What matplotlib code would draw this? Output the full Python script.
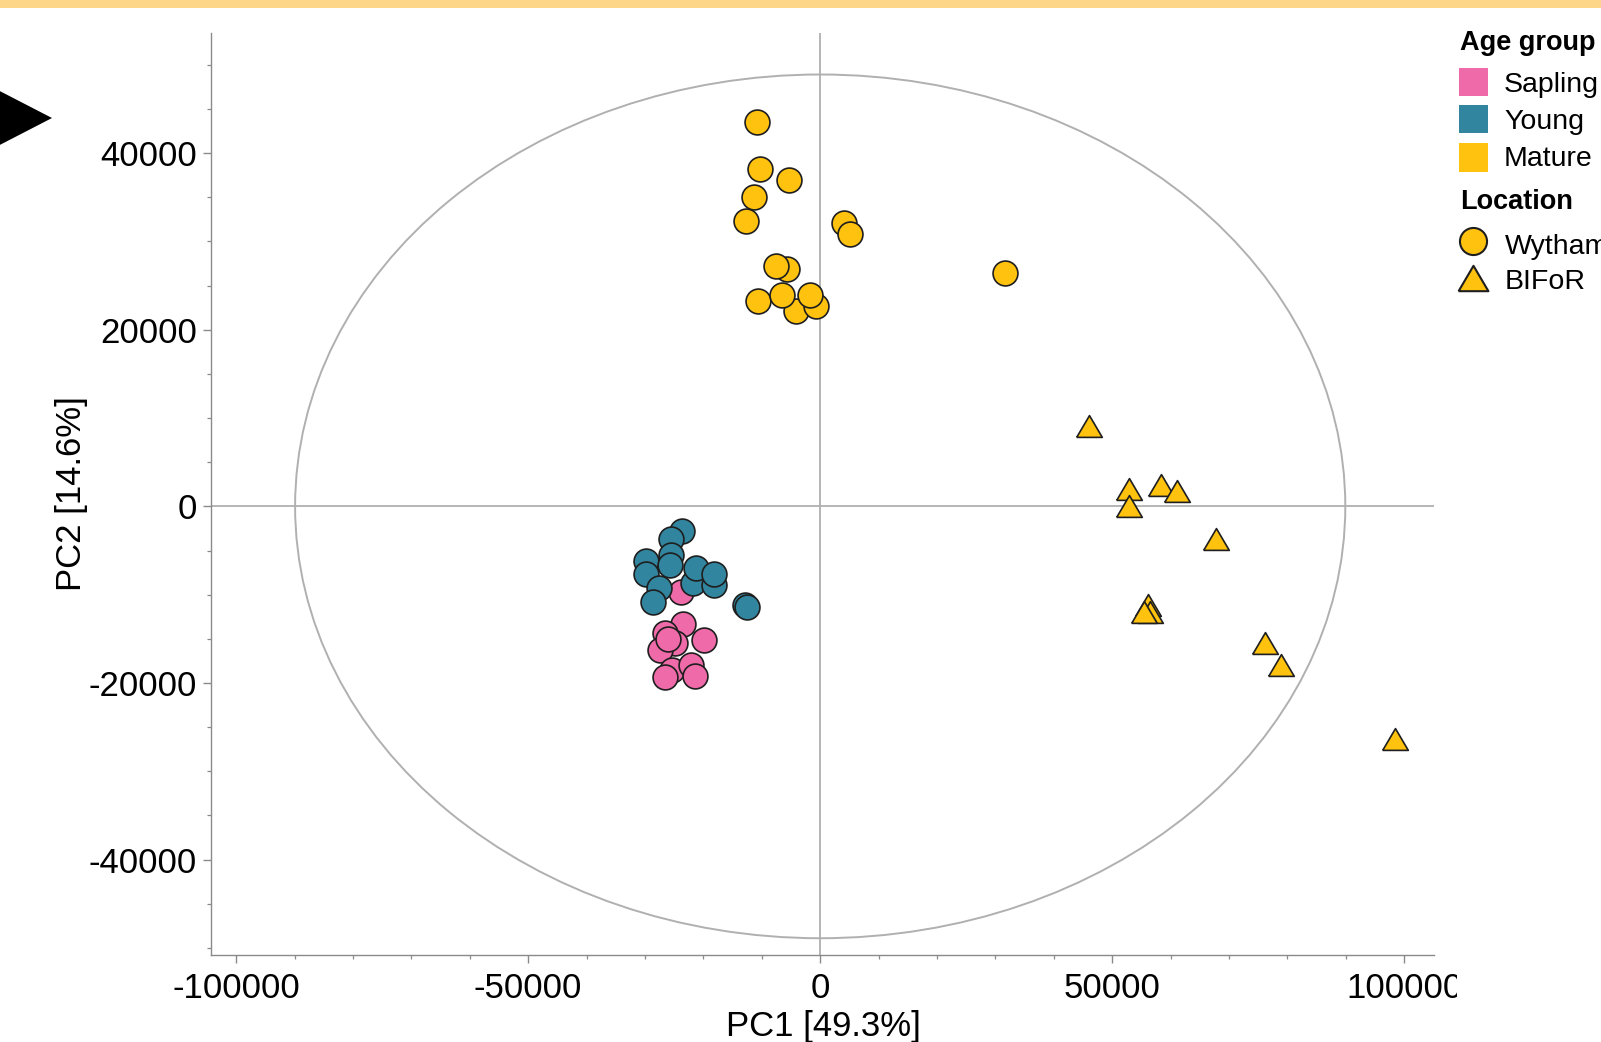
import matplotlib
matplotlib.use("Agg")
import matplotlib.pyplot as plt
import numpy as np
from matplotlib.patches import Ellipse, Rectangle, Polygon
from matplotlib.lines import Line2D
from matplotlib.ticker import MultipleLocator

plt.rcParams['font.family'] = ['Liberation Sans', 'DejaVu Sans']

# ---------------- data (PC scores) ----------------
sapling_wytham_x = [-23.9, -23.5, -26.6, -24.8, -19.9, -27.4, -25.4, -22.2, -26.5, -21.5, -26.0]
sapling_wytham_y = [-9.7, -13.3, -14.3, -15.5, -15.1, -16.3, -18.5, -18.0, -19.3, -19.2, -15.0]

young_wytham_x = [-23.6, -25.6, -25.5, -29.8, -25.8, -21.7, -21.3, -18.1, -18.1, -29.9, -27.6, -28.6, -12.9, -12.6]
young_wytham_y = [-2.75, -3.7, -5.5, -6.2, -6.6, -8.7, -7.0, -8.9, -7.7, -7.7, -9.2, -10.8, -11.2, -11.4]

mature_wytham_x = [-10.8, -10.3, -5.3, -11.4, -12.7, 4.0, 5.1, -5.6, -7.5, -10.6, -4.1, -6.5, -0.7, -1.7, 31.6]
mature_wytham_y = [43.5, 38.2, 37.0, 35.0, 32.3, 32.1, 30.8, 26.9, 27.2, 23.2, 22.1, 23.9, 22.7, 23.9, 26.4]

mature_bifor_x = [46.0, 52.8, 52.8, 58.4, 61.0, 67.7, 56.1, 56.4, 55.4, 76.1, 78.9, 98.4]
mature_bifor_y = [9.07, 2.0, 0.08, 2.4, 1.7, -3.7, -11.2, -12.0, -12.0, -15.5, -18.0, -26.3]

scale = 1000.0  # values above are in thousands

age_groups = ["Sapling", "Young", "Mature"]
age_colors = ["#EF6AA8", "#32859F", "#FFC20E"]
locations = ["Wytham", "BIFoR"]

x_label = "PC1 [49.3%]"
y_label = "PC2 [14.6%]"
x_ticks = [-100000, -50000, 0, 50000, 100000]
y_ticks = [-40000, -20000, 0, 20000, 40000]
ellipse_radii = (89900, 48900)

# ---------------- figure ----------------
W, H = 1601, 1042
fig = plt.figure(figsize=(W / 100, H / 100), dpi=100)

def fx(px):
    return px / W

def fy(py):
    return 1 - py / H

ax = fig.add_axes([fx(211), fy(955), fx(1433.5) - fx(211), fy(33) - fy(955)])
ax.set_xlim(-104300, 105000)
ax.set_ylim(-50800, 53600)

grey = "#8a8a8a"
for s in ["top", "right"]:
    ax.spines[s].set_visible(False)
for s in ["left", "bottom"]:
    ax.spines[s].set_color(grey)
    ax.spines[s].set_linewidth(1.0)

ax.set_xticks(x_ticks)
ax.set_yticks(y_ticks)
ax.set_xticklabels([str(v) for v in x_ticks])
ax.set_yticklabels([str(v) for v in y_ticks])
ax.xaxis.set_minor_locator(MultipleLocator(10000))
ax.yaxis.set_minor_locator(MultipleLocator(5000))
ax.tick_params(which="major", length=6, width=1.0, color=grey, labelsize=25, direction="out")
ax.tick_params(which="minor", length=3, width=0.9, color=grey, direction="out")
ax.tick_params(axis="x", which="major", pad=6)
ax.tick_params(axis="y", which="major", pad=4)

# reference lines and ellipse
line_c = "#b0b0b0"
ax.axhline(0, color=line_c, lw=1.3, zorder=1)
ax.axvline(0, color=line_c, lw=1.3, zorder=1)
ax.add_patch(Ellipse((0, 0), 2 * ellipse_radii[0], 2 * ellipse_radii[1], fill=False,
                     edgecolor=line_c, lw=1.4, zorder=1))

tri_verts = [(-1, -0.85), (1, -0.85), (0, 0.85), (-1, -0.85)]
edge = "#1e1e1e"
circ_s = 320
tri_s = 340

ax.scatter(np.array(sapling_wytham_x) * scale, np.array(sapling_wytham_y) * scale, s=circ_s,
           c=age_colors[0], edgecolors=edge, linewidths=1.2, marker="o", zorder=3)
ax.scatter(np.array(young_wytham_x) * scale, np.array(young_wytham_y) * scale, s=circ_s,
           c=age_colors[1], edgecolors=edge, linewidths=1.2, marker="o", zorder=4)
ax.scatter(np.array(mature_wytham_x) * scale, np.array(mature_wytham_y) * scale, s=circ_s,
           c=age_colors[2], edgecolors=edge, linewidths=1.2, marker="o", zorder=4)
ax.scatter(np.array(mature_bifor_x) * scale, np.array(mature_bifor_y) * scale, s=tri_s,
           c=age_colors[2], edgecolors=edge, linewidths=1.2, marker=tri_verts, zorder=4)

# axis labels
fig.text(fx(823), fy(1036), x_label, fontsize=25, ha="center", va="baseline")
fig.text(fx(71.5), fy(494), y_label, fontsize=25, ha="center", va="center", rotation=90)

# panel clip: the reference panel is cut off at the right edge of the plot area
fig.add_artist(Rectangle((fx(1457), 0), 1 - fx(1457), fy(960), transform=fig.transFigure,
                         facecolor="white", edgecolor="none", zorder=5))

# top bar
fig.add_artist(Rectangle((0, fy(8)), 1, 1 - fy(8), transform=fig.transFigure,
                         facecolor="#FDD68A", edgecolor="none"))
# black arrow at left
fig.add_artist(Polygon([(fx(-10), fy(86)), (fx(52), fy(118)), (fx(-10), fy(150))],
                       closed=True, transform=fig.transFigure, facecolor="black",
                       edgecolor="none"))

# legend (manual)
fig.text(fx(1460), fy(50), "Age group", fontsize=19.5, fontweight="bold", ha="left", va="baseline")
rows_y = [(68, 96, 92), (105, 133, 129), (143, 172, 166)]
for (t, b, base), name, col in zip(rows_y, age_groups, age_colors):
    fig.add_artist(Rectangle((fx(1459), fy(b)), fx(1488) - fx(1459), fy(t) - fy(b),
                             transform=fig.transFigure, facecolor=col, edgecolor="none"))
    fig.text(fx(1504), fy(base), name, fontsize=20.5, ha="left", va="baseline")

fig.text(fx(1460), fy(209), "Location", fontsize=19.5, fontweight="bold", ha="left", va="baseline")
fig.add_artist(Line2D([fx(1473)], [fy(241)], marker="o", markersize=19.5,
                      markerfacecolor=age_colors[2], markeredgecolor=edge, markeredgewidth=1.5,
                      transform=fig.transFigure, linestyle="none"))
fig.text(fx(1505), fy(254), locations[0], fontsize=20.5, ha="left", va="baseline")
fig.add_artist(Line2D([fx(1473)], [fy(278)], marker=tri_verts, markersize=21.5,
                      markerfacecolor=age_colors[2], markeredgecolor=edge, markeredgewidth=1.5,
                      transform=fig.transFigure, linestyle="none"))
fig.text(fx(1505), fy(289), locations[1], fontsize=20.5, ha="left", va="baseline")

fig.savefig("out.png", dpi=100)
